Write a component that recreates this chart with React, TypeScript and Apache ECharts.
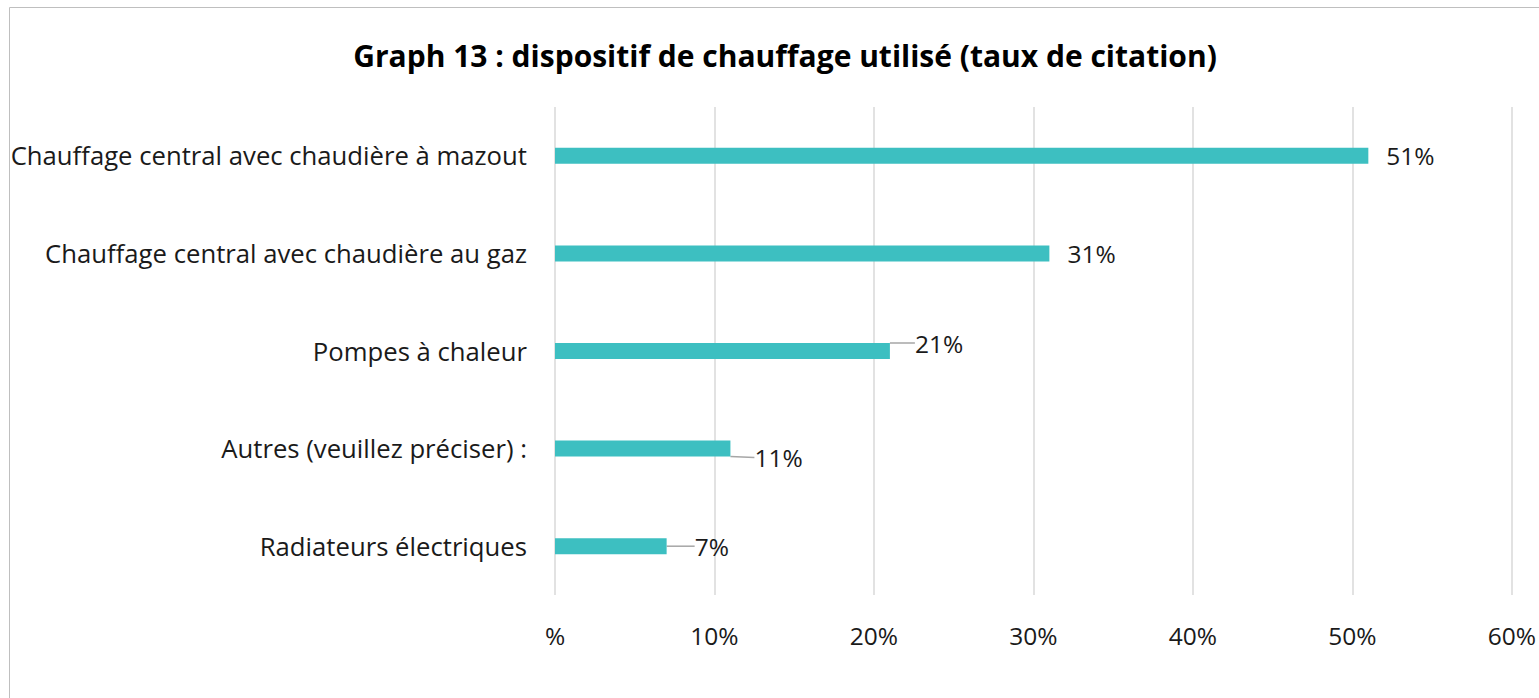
import React, { useEffect, useRef } from "react";
import * as echarts from "echarts";

const categories = [
  "Chauffage central avec chaudière à mazout",
  "Chauffage central avec chaudière au gaz",
  "Pompes à chaleur",
  "Autres (veuillez préciser) :",
  "Radiateurs électriques",
];
const values = [51, 31, 21, 11, 7];
const xTickLabels = ["%", "10%", "20%", "30%", "40%", "50%", "60%"];
const leaderLineShown = [false, false, true, true, true];
const labelShift = [
  { dx: 0, dy: 0 },
  { dx: 0, dy: 0 },
  { dx: 7, dy: -8 },
  { dx: 6, dy: 9 },
  { dx: 10, dy: 0 },
];

const FONT = "'Open Sans', 'Noto Sans', sans-serif";

export default function App() {
  const ref = useRef<HTMLDivElement>(null);
  useEffect(() => {
    document.body.style.margin = "0";
    const chart = echarts.init(ref.current!, null, { renderer: "svg" });
    chart.setOption({
      animation: false,
      textStyle: { fontFamily: FONT },
      title: {
        text: "Graph 13 : dispositif de chauffage utilisé (taux de citation)",
        left: 780,
        top: 35,
        textAlign: "center",
        textStyle: { fontSize: 30, fontWeight: "bold", color: "#000", fontFamily: FONT },
      },
      graphic: [
        {
          type: "rect",
          shape: { x: 9.5, y: 7.5, width: 1700, height: 900 },
          style: { fill: "none", stroke: "#bfbfbf", lineWidth: 1 },
          silent: true,
        },
      ],
      grid: { left: 555, top: 107, width: 960, height: 488, containLabel: false },
      xAxis: {
        type: "value",
        min: 0,
        max: 60,
        interval: 10,
        axisLine: { show: false },
        axisTick: { show: false },
        splitLine: { lineStyle: { color: "#d9d9d9", width: 1.5 } },
        axisLabel: {
          margin: 28,
          fontSize: 24.5,
          color: "#1a1a1a",
          fontFamily: FONT,
          formatter: (v: number) => xTickLabels[Math.round(v / 10)] ?? "",
        },
      },
      yAxis: {
        type: "category",
        inverse: true,
        data: categories,
        axisLine: { show: false },
        axisTick: { show: false },
        axisLabel: { margin: 28, fontSize: 25.7, color: "#1a1a1a", fontFamily: FONT },
      },
      series: [
        {
          type: "bar",
          barWidth: 16,
          itemStyle: { color: "#3DBFC1" },
          data: values.map((v, i) => ({
            value: v,
            labelLine: { show: leaderLineShown[i], lineStyle: { color: "#a6a6a6", width: 1.5 } },
          })),
          label: {
            show: true,
            position: "right",
            distance: 18,
            fontSize: 24.5,
            color: "#1a1a1a",
            fontFamily: FONT,
            formatter: "{c}%",
          },
          labelLayout: (params: any) => labelShift[params.dataIndex],
        },
      ],
    });
    return () => chart.dispose();
  }, []);
  return <div ref={ref} style={{ width: 1539, height: 698 }} />;
}
